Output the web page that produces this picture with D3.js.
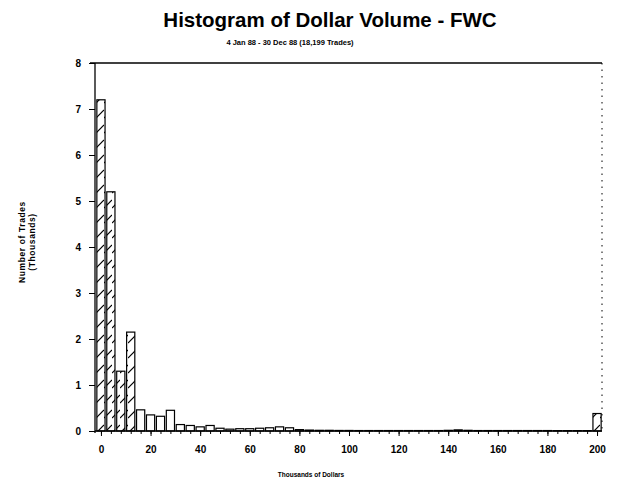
<!DOCTYPE html>
<html>
<head>
<meta charset="utf-8">
<script src="https://d3js.org/d3.v7.min.js"></script>
<style>
  body { margin: 0; background: #fff; }
  svg { display: block; font-family: "Liberation Sans", Arial, sans-serif; }
</style>
</head>
<body>
<svg id="chart" width="617" height="480"></svg>
<script>
// bin centres (thousands of dollars) and counts (thousands of trades)
var binCentres = [0, 4, 8, 12, 16, 20, 24, 28, 32, 36, 40, 44, 48, 52, 56, 60, 64, 68, 72, 76,
                  80, 84, 88, 92, 96, 100, 104, 108, 112, 116, 120, 124, 128, 132, 136, 140, 144, 148,
                  152, 156, 160, 164, 168, 172, 176, 180, 184, 188, 192, 196, 200];
var tradeCounts = [7.2, 5.2, 1.3, 2.15, 0.46, 0.35, 0.32, 0.45, 0.14, 0.12, 0.09, 0.12, 0.06, 0.04, 0.05, 0.05, 0.06, 0.07, 0.09, 0.07,
                   0.03, 0.02, 0.015, 0.015, 0.012, 0.012, 0.01, 0.01, 0.01, 0.01, 0.01, 0.01, 0.01, 0.01, 0.01, 0.015, 0.025, 0.015,
                   0.01, 0.01, 0.01, 0.01, 0.01, 0.01, 0.01, 0.01, 0.008, 0.008, 0.008, 0.008, 0.38];
var hatchedBins = [0, 4, 8, 12, 200];
var xTicks = [0, 20, 40, 60, 80, 100, 120, 140, 160, 180, 200];
var yTicks = [0, 1, 2, 3, 4, 5, 6, 7, 8];
var binWidth = 3.3;

var svg = d3.select("#chart");

var x = d3.scaleLinear().domain([-2.4, 202]).range([95, 602]);
var y = d3.scaleLinear().domain([0, 8]).range([431, 63]);

// hatch pattern
var defs = svg.append("defs");
defs.append("pattern")
    .attr("id", "hatch")
    .attr("patternUnits", "userSpaceOnUse")
    .attr("width", 8).attr("height", 15)
    .append("path")
    .attr("d", "M0,13 L8,5")
    .attr("stroke", "#000")
    .attr("stroke-width", 1.1);

var data = binCentres.map(function(c, i) { return {c: c, v: tradeCounts[i]}; });

// bars
svg.selectAll("rect.bar")
   .data(data)
   .join("rect")
   .attr("class", "bar")
   .attr("x", function(d) { return x(d.c - binWidth / 2); })
   .attr("width", function(d) { return x(d.c + binWidth / 2) - x(d.c - binWidth / 2); })
   .attr("y", function(d) { return y(d.v); })
   .attr("height", function(d) { return y(0) - y(d.v); })
   .attr("fill", function(d) { return hatchedBins.indexOf(d.c) >= 0 ? "url(#hatch)" : "#fff"; })
   .attr("stroke", "#000")
   .attr("stroke-width", 1.2);

// frame: top line and dotted right side
svg.append("line").attr("x1", 90).attr("x2", x(202)).attr("y1", y(8)).attr("y2", y(8))
   .attr("stroke", "#000").attr("stroke-width", 1.6);
svg.append("line").attr("x1", x(202)).attr("x2", x(202)).attr("y1", y(8)).attr("y2", y(0))
   .attr("stroke", "#000").attr("stroke-width", 1).attr("stroke-dasharray", "1.5,5");

// y axis
var yAxis = d3.axisLeft(y).tickValues(yTicks).tickSize(6).tickPadding(8).tickFormat(d3.format("d"));
var gy = svg.append("g").attr("transform", "translate(95,0)").call(yAxis);
gy.select(".domain").attr("d", "M0," + y(8) + "V" + (y(0) + 2)).attr("stroke-width", 1.3);
gy.selectAll("text").attr("font-size", 10).attr("font-weight", "bold").attr("fill", "#000");

// x axis: minor ticks at each bin, labelled every 20
var gxMinor = svg.append("g").attr("transform", "translate(0," + y(0) + ")")
   .call(d3.axisBottom(x).tickValues(binCentres).tickSize(3).tickFormat(""));
gxMinor.select(".domain").attr("d", "M95,0H" + x(202)).attr("stroke-width", 1.6);
var gx = svg.append("g").attr("transform", "translate(0," + y(0) + ")")
   .call(d3.axisBottom(x).tickValues(xTicks).tickSize(5).tickPadding(10).tickFormat(d3.format("d")));
gx.select(".domain").remove();
gx.selectAll("text").attr("font-size", 10).attr("font-weight", "bold").attr("fill", "#000");

// titles
svg.append("text").attr("x", 330).attr("y", 27).attr("text-anchor", "middle")
   .attr("font-size", 20.5).attr("font-weight", "bold")
   .text("Histogram of Dollar Volume - FWC");
svg.append("text").attr("x", 290).attr("y", 45).attr("text-anchor", "middle")
   .attr("font-size", 7.5).attr("font-weight", "bold")
   .text("4 Jan 88 - 30 Dec 88 (18,199 Trades)");
svg.append("text").attr("x", 311).attr("y", 477).attr("text-anchor", "middle")
   .attr("font-size", 6.5).attr("font-weight", "bold")
   .text("Thousands of Dollars");

var yl = svg.append("text").attr("transform", "translate(25,242) rotate(-90)")
   .attr("text-anchor", "middle").attr("font-size", 8.5).attr("font-weight", "bold")
   .attr("letter-spacing", 0.6);
yl.append("tspan").attr("x", 0).attr("dy", 0).text("Number of Trades");
yl.append("tspan").attr("x", 0).attr("dy", 10).text("(Thousands)");
</script>
</body>
</html>
